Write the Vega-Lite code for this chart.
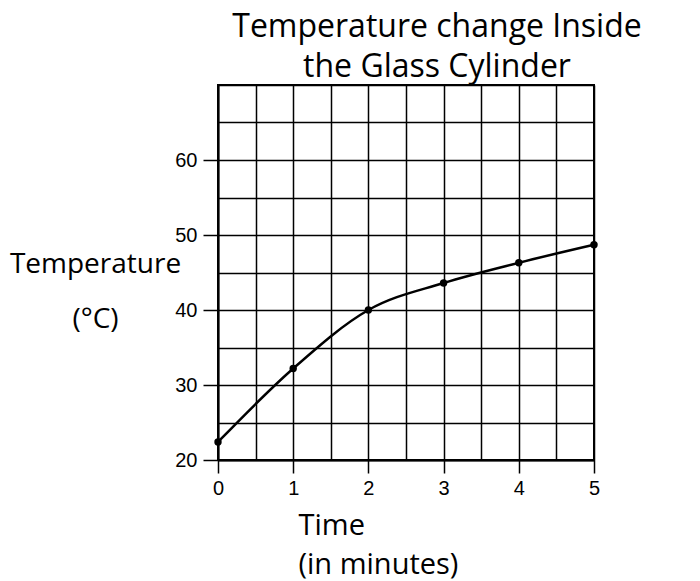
{
  "$schema": "https://vega.github.io/schema/vega-lite/v6.json",
  "autosize": {"type": "none"},
  "padding": {"left": 218, "top": 85, "right": 106, "bottom": 121},
  "width": 376,
  "height": 375,
  "background": "white",
  "title": {
    "text": ["Temperature change Inside", "the Glass Cylinder"],
    "font": "Open Sans",
    "fontSize": 32,
    "fontWeight": "normal",
    "lineHeight": 40,
    "frame": "group",
    "anchor": "middle",
    "dx": 31,
    "offset": -9,
    "color": "black"
  },
  "config": {"view": {"stroke": "black", "strokeWidth": 2}},
  "data": {
    "values": [
      {"time": 0, "temp": 22.4},
      {"time": 1, "temp": 32.2},
      {"time": 2, "temp": 40.0},
      {"time": 3, "temp": 43.6},
      {"time": 4, "temp": 46.3},
      {"time": 5, "temp": 48.7}
    ]
  },
  "encoding": {
    "x": {
      "field": "time",
      "type": "quantitative",
      "scale": {"domain": [0, 5], "nice": false, "zero": false},
      "axis": {
        "values": [0, 0.5, 1, 1.5, 2, 2.5, 3, 3.5, 4, 4.5, 5],
        "grid": true,
        "gridColor": "black",
        "gridWidth": 1.5,
        "gridOpacity": 1,
        "domainColor": "black",
        "domainWidth": 2,
        "tickColor": "black",
        "tickWidth": 1.5,
        "tickSize": 13,
        "tickOpacity": {"condition": {"test": "datum.value % 1 !== 0", "value": 0}, "value": 1},
        "labelExpr": "datum.value % 1 === 0 ? format(datum.value, 'd') : ''",
        "labelFont": "Liberation Sans",
        "labelFontSize": 20,
        "labelColor": "black",
        "labelPadding": 5,
        "labelFlush": false,
        "labelOverlap": false,
        "title": ["Time", "(in minutes)"],
        "titleFont": "Open Sans",
        "titleFontSize": 29,
        "titleFontWeight": "normal",
        "titleColor": "black",
        "titleAlign": "left",
        "titleBaseline": "alphabetic",
        "titleX": 80,
        "titleY": 74,
        "titleLineHeight": 39
      }
    },
    "y": {
      "field": "temp",
      "type": "quantitative",
      "scale": {"domain": [20, 70], "nice": false, "zero": false},
      "axis": {
        "values": [20, 25, 30, 35, 40, 45, 50, 55, 60, 65, 70],
        "grid": true,
        "gridColor": "black",
        "gridWidth": 1.5,
        "gridOpacity": 1,
        "domainColor": "black",
        "domainWidth": 2,
        "tickColor": "black",
        "tickWidth": 1.5,
        "tickSize": 15,
        "tickOpacity": {"condition": {"test": "datum.value % 10 !== 0 || datum.value >= 70", "value": 0}, "value": 1},
        "labelExpr": "datum.value % 10 === 0 && datum.value < 70 ? datum.label : ''",
        "labelFont": "Liberation Sans",
        "labelFontSize": 20,
        "labelColor": "black",
        "labelPadding": 6,
        "labelFlush": false,
        "labelOverlap": false,
        "title": ["Temperature", "(°C)"],
        "titleFont": "Open Sans",
        "titleFontSize": 28,
        "titleFontWeight": "normal",
        "titleColor": "black",
        "titleAngle": 0,
        "titleAlign": "center",
        "titleBaseline": "alphabetic",
        "titleX": -123,
        "titleY": 187,
        "titleLineHeight": 55
      }
    }
  },
  "layer": [
    {"mark": {"type": "line", "color": "black", "strokeWidth": 2.5, "interpolate": "monotone"}},
    {"mark": {"type": "circle", "color": "black", "size": 55, "opacity": 1}}
  ]
}
